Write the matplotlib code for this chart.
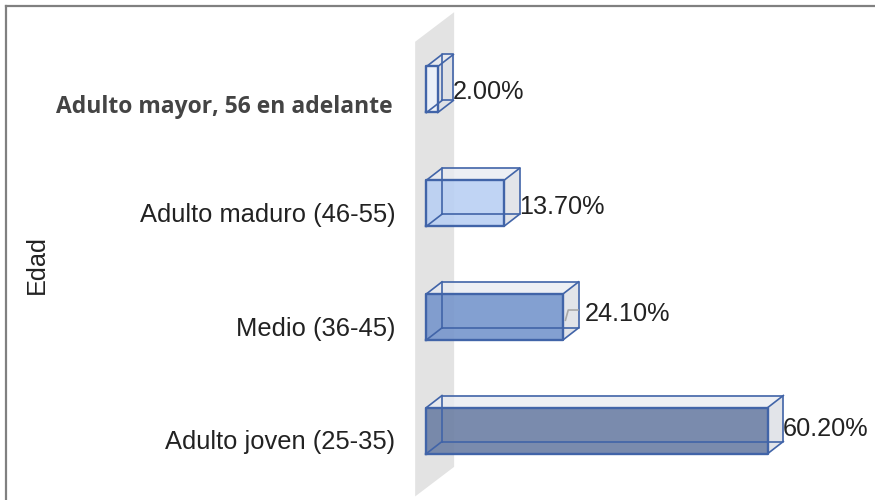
import matplotlib
matplotlib.use("Agg")
import matplotlib.pyplot as plt
from matplotlib.patches import Polygon
from matplotlib.lines import Line2D

categorias = ["Adulto joven (25-35)", "Medio (36-45)", "Adulto maduro (46-55)", "Adulto mayor, 56 en adelante"]
valores = [60.2, 24.1, 13.7, 2.0]
colores = ["#6c7fa4", "#7696cc", "#b9d0f3", "#edf2fb"]
etiquetas = ["60.20%", "24.10%", "13.70%", "2.00%"]

# escala en pixeles de la imagen original
px_x = 5.67
px_y = 113.67
dx = 15.5 / px_x
dy = 12 / px_y
alto = 23 / px_y
borde = "#4164a8"

# ajuste a mano de las etiquetas de valor (en pixeles)
ajuste_x = [-1, 6, -1, -1]
ajuste_y = [2, 3, -4, -3]

fig = plt.figure(figsize=(8.75, 5), dpi=100)
ax = fig.add_axes([0, 0, 1, 1])
ax.set_xlim(-426.5 / px_x, (875 - 426.5) / px_x)
ax.set_ylim(-69.5 / px_y, 430.5 / px_y)
ax.axis("off")

# pared del fondo
pared = Polygon([(-2, -0.58), (4.87, -0.32), (4.87, 3.68), (-2, 3.42)], closed=True, fc="#e3e3e3", ec="none", zorder=1)
ax.add_patch(pared)

for i, v in enumerate(valores):
    base = i - alto
    tope = i + alto
    # arriba y lado
    arriba = Polygon([(0, tope), (v, tope), (v + dx, tope + dy), (dx, tope + dy)], closed=True, fc="#e9ebf2", ec="none", alpha=0.8, zorder=2)
    lado = Polygon([(v, base), (v + dx, base + dy), (v + dx, tope + dy), (v, tope)], closed=True, fc="#dfe1e7", ec="none", alpha=0.9, zorder=2)
    ax.add_patch(arriba)
    ax.add_patch(lado)
    # cara frontal
    ax.barh(i, v, height=2 * alto, color=colores[i], alpha=0.9, zorder=3)
    # aristas, todas se ven a traves de la caja
    ax.plot([dx, v + dx, v + dx, dx, dx], [base + dy, base + dy, tope + dy, tope + dy, base + dy], color=borde, lw=1.2, zorder=4)
    ax.plot([0, dx], [base, base + dy], color=borde, lw=1.2, zorder=4)
    ax.plot([0, dx], [tope, tope + dy], color=borde, lw=1.2, zorder=4)
    ax.plot([v, v + dx], [base, base + dy], color=borde, lw=1.2, zorder=4)
    ax.plot([v, v + dx], [tope, tope + dy], color=borde, lw=1.2, zorder=4)
    ax.plot([0, v, v, 0, 0], [base, base, tope, tope, base], color=borde, lw=1.7, zorder=5)
    ax.text(v + dx + ajuste_x[i] / px_x, i + ajuste_y[i] / px_y, etiquetas[i], ha="left", va="center", fontsize=18.2, family="Liberation Sans", color="#222222", zorder=6)
    if i < 3:
        ax.text(-5.5, i - 0.105, categorias[i], ha="right", va="center", fontsize=18.4, family="Liberation Sans", color="#222222")
    else:
        ax.text(-6, i - 0.158, categorias[i], ha="right", va="center", fontsize=16.5, family="Open Sans", fontweight="bold", color="#444444")

# linea guia de la etiqueta 24.10%
ax.plot([24.1 + 0.4, 24.1 + 0.9, 24.1 + 2.6], [1 - 0.03, 1 + 0.06, 1 + 0.06], color="#a8a8a8", lw=1.2, zorder=5)

fig.text(37 / 875, 1 - 265 / 500, "Edad", rotation=90, ha="center", va="center", fontsize=18.2, family="Liberation Sans", color="#222222")

# marco, solo arriba y a la izquierda
fig.add_artist(Line2D([5.5 / 875, 5.5 / 875], [0, 1 - 5.5 / 500], color="#808080", lw=1.6))
fig.add_artist(Line2D([5.5 / 875, 1], [1 - 5.5 / 500, 1 - 5.5 / 500], color="#808080", lw=1.6))

fig.savefig("out.png", dpi=100)
